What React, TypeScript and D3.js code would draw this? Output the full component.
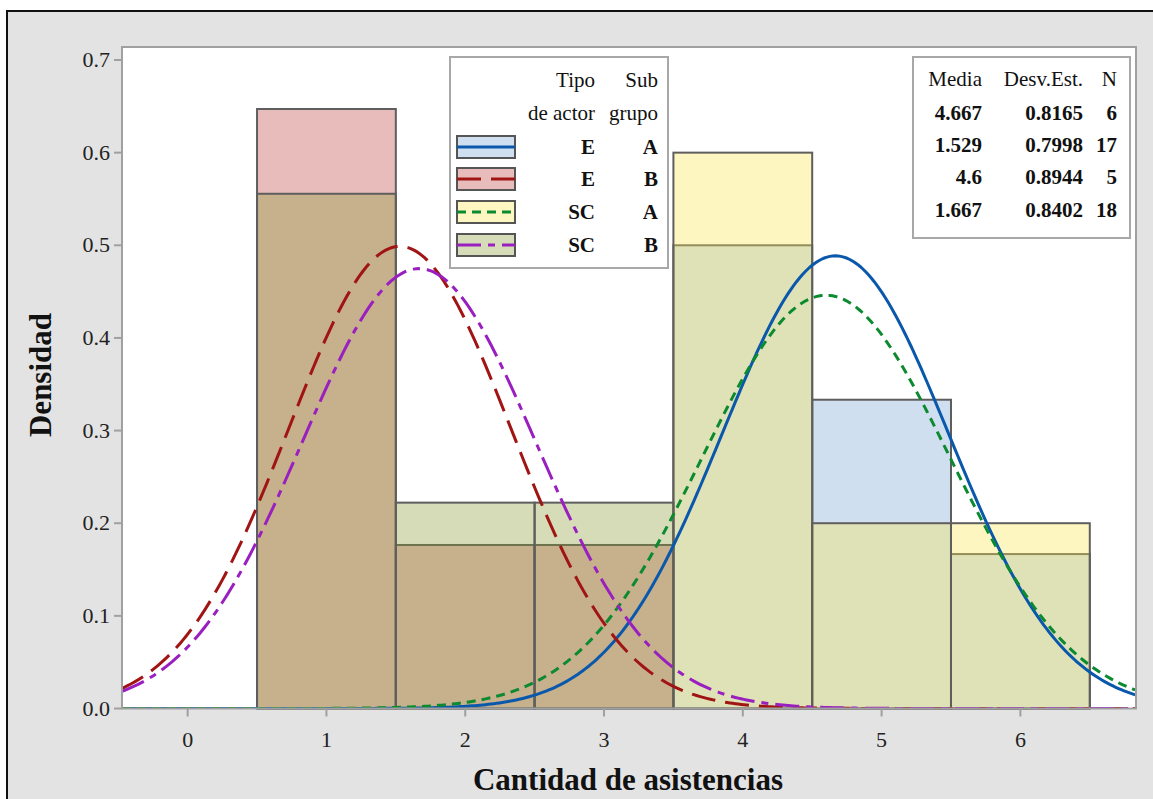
import React from 'react';
import * as d3 from 'd3';

// groups: Tipo de actor / Sub grupo
const tipoActor = ['E', 'E', 'SC', 'SC'];
const subGrupo = ['A', 'B', 'A', 'B'];
const medias = [4.667, 1.529, 4.6, 1.667];
const desvEst = [0.8165, 0.7998, 0.8944, 0.8402];
const nObs = [6, 17, 5, 18];
const mediaLabels = ['4.667', '1.529', '4.6', '1.667'];
const desvLabels = ['0.8165', '0.7998', '0.8944', '0.8402'];

// histogram densities per bin (bins centered at 1..6)
const binCenters = [1, 2, 3, 4, 5, 6];
const densityEA = [0, 0, 0, 0.5, 0.3333, 0.1667];
const densityEB = [0.6471, 0.1765, 0.1765, 0, 0, 0];
const densitySCA = [0, 0, 0, 0.6, 0.2, 0.2];
const densitySCB = [0.5556, 0.2222, 0.2222, 0, 0, 0];
const densities = [densityEA, densityEB, densitySCA, densitySCB];

const xTicks = [0, 1, 2, 3, 4, 5, 6];
const yTicks = [0, 0.1, 0.2, 0.3, 0.4, 0.5, 0.6, 0.7];

const fills = ['#76a4d4', '#c04040', '#fce54b', '#8a9b34'];
const lineColors = ['#0a58ab', '#a01414', '#0c8a30', '#9a1fbf'];
const dashes = ['none', '24,10', '9,6', '24,7,7,7'];

const serif = '"Liberation Serif", "Times New Roman", serif';

const App = () => {
  const W = 1153;
  const H = 799;
  const left = 122, right = 1136, top = 47, bottom = 708.5;

  const x = d3.scaleLinear().domain([-0.473, 6.833]).range([left, right]);
  const y = d3.scaleLinear().domain([0, 0.7]).range([bottom, 60]);

  const xs = d3.range(-0.473, 6.84, 0.02);
  const normal = (v: number, m: number, s: number) =>
    Math.exp(-0.5 * ((v - m) / s) ** 2) / (s * Math.sqrt(2 * Math.PI));
  const line = d3
    .line<number[]>()
    .x(d => x(d[0]))
    .y(d => y(d[1]));

  const legX = 450, legY = 57, legW = 218, legH = 211;
  const rowY = [147, 179, 212, 245];
  const tabX = 913, tabY = 57, tabW = 217, tabH = 181;
  const tabRowY = [86, 120, 152, 184, 217];

  return (
    <svg
      width={W}
      height={H}
      style={{position: 'absolute', left: 0, top: 0, background: '#fff'}}
    >
      <defs>
        <clipPath id="plotClip">
          <rect x={left} y={top} width={right - left} height={bottom - top} />
        </clipPath>
      </defs>
      {/* outer panel */}
      <rect x={7} y={11} width={W} height={H} fill="#e3e3e3" stroke="#111" strokeWidth={2} />
      <rect x={left} y={top} width={right - left} height={bottom - top} fill="#fff" />

      {/* bars */}
      {densities.map((dens, g) =>
        dens.map((d, i) =>
          d > 0 ? (
            <rect
              key={`b${g}-${i}`}
              x={x(binCenters[i] - 0.5)}
              y={y(d)}
              width={x(binCenters[i] + 0.5) - x(binCenters[i] - 0.5)}
              height={y(0) - y(d)}
              fill={fills[g]}
              fillOpacity={0.35}
              stroke="#5e5e5e"
              strokeWidth={2}
            />
          ) : null
        )
      )}

      {/* fitted normal curves */}
      <g clipPath="url(#plotClip)">
        {medias.map((m, g) => (
          <path
            key={`c${g}`}
            d={line(xs.map(v => [v, normal(v, m, desvEst[g])])) || ''}
            fill="none"
            stroke={lineColors[g]}
            strokeWidth={3}
            strokeDasharray={dashes[g]}
          />
        ))}
      </g>

      {/* frame */}
      <rect x={left} y={top} width={right - left} height={bottom - top} fill="none" stroke="#a0a0a0" strokeWidth={2} />

      {/* y axis */}
      {yTicks.map(t => (
        <g key={`y${t}`}>
          <line x1={left - 8} x2={left} y1={y(t)} y2={y(t)} stroke="#a0a0a0" strokeWidth={2} />
          <text x={left - 12} y={y(t) + 7} textAnchor="end" fontFamily={serif} fontSize={22} fill="#222">
            {t.toFixed(1)}
          </text>
        </g>
      ))}
      {/* x axis */}
      {xTicks.map(t => (
        <g key={`x${t}`}>
          <line x1={x(t)} x2={x(t)} y1={bottom} y2={bottom + 8} stroke="#a0a0a0" strokeWidth={2} />
          <text x={x(t)} y={bottom + 38} textAnchor="middle" fontFamily={serif} fontSize={22} fill="#222">
            {t}
          </text>
        </g>
      ))}

      <text x={628} y={790} textAnchor="middle" fontFamily={serif} fontWeight="bold" fontSize={31} fill="#111">
        Cantidad de asistencias
      </text>
      <text
        transform="translate(51,375) rotate(-90)"
        textAnchor="middle"
        fontFamily={serif}
        fontWeight="bold"
        fontSize={31}
        fill="#111"
      >
        Densidad
      </text>

      {/* legend */}
      <rect x={legX} y={legY} width={legW} height={legH} fill="#fff" stroke="#a8a8a8" strokeWidth={2} />
      <g fontFamily={serif} fontSize={21} fill="#111">
        <text x={595} y={87} textAnchor="end">Tipo</text>
        <text x={658} y={87} textAnchor="end">Sub</text>
        <text x={595} y={120} textAnchor="end">de actor</text>
        <text x={658} y={120} textAnchor="end">grupo</text>
        {tipoActor.map((t, g) => (
          <g key={`l${g}`}>
            <rect x={457} y={rowY[g] - 11} width={58} height={22} fill={fills[g]} fillOpacity={0.35} stroke="#555" strokeWidth={2} />
            <line
              x1={457}
              x2={515}
              y1={rowY[g]}
              y2={rowY[g]}
              stroke={lineColors[g]}
              strokeWidth={3}
              strokeDasharray={dashes[g]}
            />
            <text x={595} y={rowY[g] + 7} textAnchor="end" fontWeight="bold">{t}</text>
            <text x={658} y={rowY[g] + 7} textAnchor="end" fontWeight="bold">{subGrupo[g]}</text>
          </g>
        ))}
      </g>

      {/* statistics table */}
      <rect x={tabX} y={tabY} width={tabW} height={tabH} fill="#fff" stroke="#a8a8a8" strokeWidth={2} />
      <g fontFamily={serif} fontSize={21} fill="#111">
        <text x={982} y={tabRowY[0]} textAnchor="end">Media</text>
        <text x={1083} y={tabRowY[0]} textAnchor="end">Desv.Est.</text>
        <text x={1117} y={tabRowY[0]} textAnchor="end">N</text>
        {mediaLabels.map((m, g) => (
          <g key={`t${g}`} fontWeight="bold">
            <text x={982} y={tabRowY[g + 1]} textAnchor="end">{m}</text>
            <text x={1083} y={tabRowY[g + 1]} textAnchor="end">{desvLabels[g]}</text>
            <text x={1117} y={tabRowY[g + 1]} textAnchor="end">{nObs[g]}</text>
          </g>
        ))}
      </g>
    </svg>
  );
};

export default App;
